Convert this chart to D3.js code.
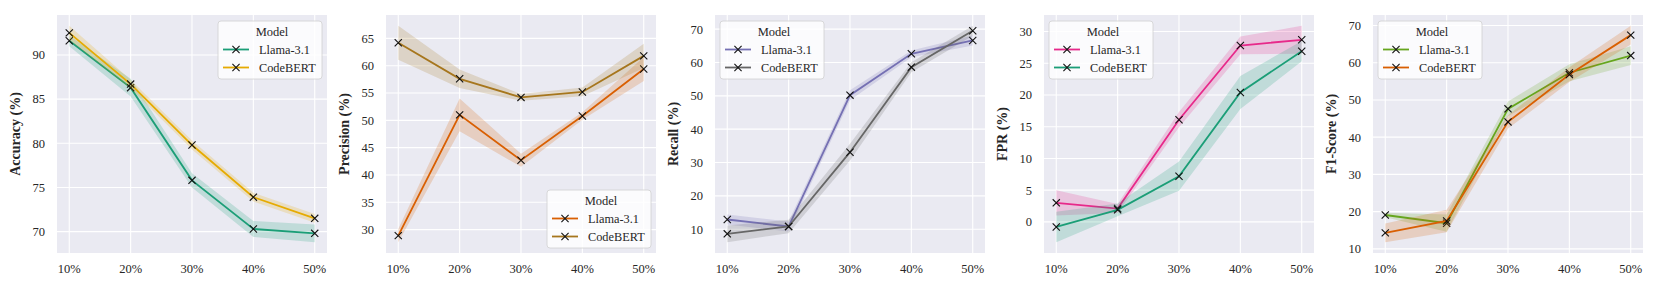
<!DOCTYPE html>
<html>
<head>
<meta charset="utf-8">
<script src="https://cdn.jsdelivr.net/npm/d3@7"></script>
<style>
  body { margin: 0; background: #fff; }
  svg text { font-family: "Liberation Serif", "Times New Roman", serif; fill: #262626; }
</style>
</head>
<body>
<svg id="chart" width="1661" height="291"></svg>
<script>
// x categories (training share)
var ratios = ["10%", "20%", "30%", "40%", "50%"];
var models = ["Llama-3.1", "CodeBERT"];

// values, with half width of the shaded band
var accLlama = [91.6, 86.3, 75.8, 70.3, 69.8];
var accLlamaCI = [0.6, 1.0, 0.8, 0.9, 1.0];
var accCode = [92.5, 86.7, 79.8, 73.9, 71.5];
var accCodeCI = [0.8, 0.5, 0.5, 0.5, 0.5];

var precLlama = [28.9, 51.0, 42.7, 50.8, 59.4];
var precLlamaCI = [1.2, 3.0, 1.2, 0.7, 2.2];
var precCode = [64.2, 57.6, 54.2, 55.2, 61.8];
var precCodeCI = [3.1, 1.7, 0.6, 0.8, 2.2];

var recLlama = [12.9, 10.8, 50.2, 62.6, 66.6];
var recLlamaCI = [1.5, 1.5, 1.5, 1.0, 1.5];
var recCode = [8.6, 10.8, 33.1, 58.6, 69.5];
var recCodeCI = [2.5, 2.0, 2.5, 1.5, 1.5];

var fprLlama = [3.0, 2.1, 16.1, 27.8, 28.7];
var fprLlamaCI = [2.0, 0.7, 1.2, 1.4, 2.2];
var fprCode = [-0.8, 1.9, 7.2, 20.4, 26.9];
var fprCodeCI = [2.4, 1.0, 2.3, 2.6, 1.6];

var f1Llama = [19.1, 16.9, 47.6, 57.3, 61.9];
var f1LlamaCI = [0.6, 2.3, 2.0, 2.3, 2.5];
var f1Code = [14.3, 17.5, 44.1, 56.8, 67.4];
var f1CodeCI = [2.5, 3.0, 1.8, 2.0, 2.5];

var panels = [
    { label: "Accuracy (%)", llama: accLlama, llamaCI: accLlamaCI, code: accCode, codeCI: accCodeCI,
      colors: ["#1b9e77", "#e6ab02"], step: 5, legend: "right-top", left: 57 },
    { label: "Precision (%)", llama: precLlama, llamaCI: precLlamaCI, code: precCode, codeCI: precCodeCI,
      colors: ["#d95f02", "#a6761d"], step: 5, legend: "right-bottom", left: 386 },
    { label: "Recall (%)", llama: recLlama, llamaCI: recLlamaCI, code: recCode, codeCI: recCodeCI,
      colors: ["#7570b3", "#666666"], step: 10, legend: "left-top", left: 715 },
    { label: "FPR (%)", llama: fprLlama, llamaCI: fprLlamaCI, code: fprCode, codeCI: fprCodeCI,
      colors: ["#e7298a", "#1b9e77"], step: 5, legend: "left-top", left: 1044 },
    { label: "F1-Score (%)", llama: f1Llama, llamaCI: f1LlamaCI, code: f1Code, codeCI: f1CodeCI,
      colors: ["#66a61e", "#d95f02"], step: 10, legend: "left-top", left: 1373 }
];

var svg = d3.select("#chart");
var plotW = 270, plotTop = 15, plotBottom = 253;

panels.forEach(function(p) {
    var g = svg.append("g").attr("transform", "translate(" + p.left + "," + plotTop + ")");
    var h = plotBottom - plotTop;

    var series = [
        { name: models[0], vals: p.llama, ci: p.llamaCI, color: p.colors[0] },
        { name: models[1], vals: p.code, ci: p.codeCI, color: p.colors[1] }
    ];

    // y range like matplotlib: data incl. band, 5% margin
    var lo = d3.min(series, function(s) { return d3.min(s.vals, function(v, i) { return v - s.ci[i]; }); });
    var hi = d3.max(series, function(s) { return d3.max(s.vals, function(v, i) { return v + s.ci[i]; }); });
    var pad = (hi - lo) * 0.05;

    var x = d3.scaleLinear().domain([-0.2, ratios.length - 0.8]).range([0, plotW]);
    var y = d3.scaleLinear().domain([lo - pad, hi + pad]).range([h, 0]);

    g.append("rect").attr("width", plotW).attr("height", h).attr("fill", "#eaeaf2");

    var yTicks = d3.range(Math.ceil((lo - pad) / p.step) * p.step, hi + pad, p.step);

    // grid
    g.selectAll(".hg").data(yTicks).enter().append("line")
        .attr("x1", 0).attr("x2", plotW)
        .attr("y1", function(d) { return y(d); }).attr("y2", function(d) { return y(d); })
        .attr("stroke", "#fff").attr("stroke-width", 1.1);
    g.selectAll(".vg").data(ratios).enter().append("line")
        .attr("y1", 0).attr("y2", h)
        .attr("x1", function(d, i) { return x(i); }).attr("x2", function(d, i) { return x(i); })
        .attr("stroke", "#fff").attr("stroke-width", 1.1);

    // tick labels
    g.selectAll(".yt").data(yTicks).enter().append("text")
        .attr("x", -12).attr("y", function(d) { return y(d); })
        .attr("dy", "0.35em").attr("text-anchor", "end")
        .attr("font-size", "12.5px").text(function(d) { return d; });
    g.selectAll(".xt").data(ratios).enter().append("text")
        .attr("x", function(d, i) { return x(i); }).attr("y", 258)
        .attr("text-anchor", "middle").attr("font-size", "12.5px").text(function(d) { return d; });

    g.append("text")
        .attr("transform", "translate(" + (-37) + "," + (h / 2) + ") rotate(-90)")
        .attr("text-anchor", "middle").attr("font-size", "14px").attr("font-weight", "bold")
        .text(p.label);

    var area = d3.area()
        .x(function(d, i) { return x(i); })
        .y0(function(d) { return y(d[0]); })
        .y1(function(d) { return y(d[1]); });
    var line = d3.line()
        .x(function(d, i) { return x(i); })
        .y(function(d) { return y(d); });

    series.forEach(function(s) {
        var band = s.vals.map(function(v, i) { return [v - s.ci[i], v + s.ci[i]]; });
        g.append("path").datum(band).attr("d", area)
            .attr("fill", s.color).attr("fill-opacity", 0.2);
        g.append("path").datum(s.vals).attr("d", line)
            .attr("fill", "none").attr("stroke", s.color).attr("stroke-width", 1.8);
        g.selectAll(null).data(s.vals).enter().append("path")
            .attr("transform", function(d, i) { return "translate(" + x(i) + "," + y(d) + ")"; })
            .attr("d", "M-3.6,-3.6L3.6,3.6M-3.6,3.6L3.6,-3.6")
            .attr("stroke", "#111").attr("stroke-width", 1.1);
    });

    // legend
    var lw = 104, lh = 58;
    var lx = p.legend.indexOf("right") === 0 ? plotW - lw - 5 : 5;
    var ly = p.legend.indexOf("bottom") > 0 ? h - lh - 5 : 6;
    var leg = g.append("g").attr("transform", "translate(" + lx + "," + ly + ")");
    leg.append("rect").attr("width", lw).attr("height", lh).attr("rx", 3)
        .attr("fill", "#fff").attr("fill-opacity", 0.8)
        .attr("stroke", "#d0d0d0").attr("stroke-width", 0.8);
    leg.append("text").attr("x", lw / 2 + 2).attr("y", 15).attr("text-anchor", "middle")
        .attr("font-size", "12.5px").text("Model");
    series.forEach(function(s, i) {
        var yy = 28.5 + i * 18;
        leg.append("line").attr("x1", 5).attr("x2", 31).attr("y1", yy).attr("y2", yy)
            .attr("stroke", s.color).attr("stroke-width", 1.8);
        leg.append("path").attr("transform", "translate(18," + yy + ")")
            .attr("d", "M-3.6,-3.6L3.6,3.6M-3.6,3.6L3.6,-3.6")
            .attr("stroke", "#111").attr("stroke-width", 1.1);
        leg.append("text").attr("x", 41).attr("y", yy).attr("dy", "0.35em")
            .attr("font-size", "12.3px").text(s.name);
    });
});
</script>
</body>
</html>
